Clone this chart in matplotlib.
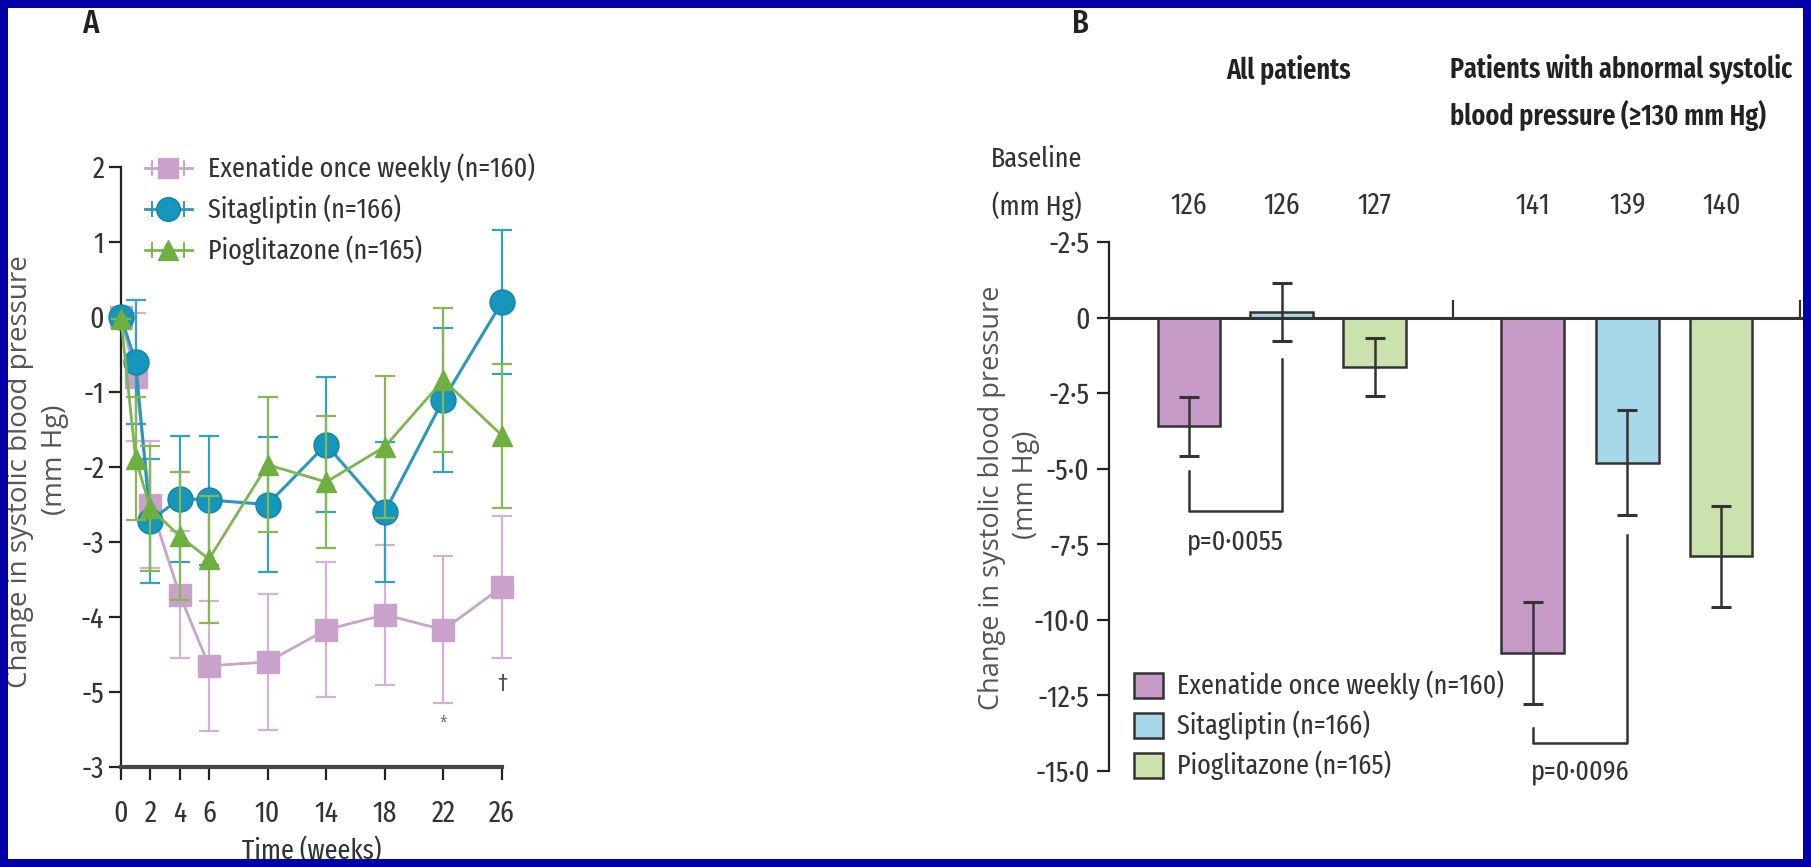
import matplotlib
matplotlib.use("Agg")
import matplotlib.pyplot as plt
from matplotlib import font_manager as fm
from matplotlib.lines import Line2D
from matplotlib.patches import Rectangle
import matplotlib.transforms as mtransforms

# ---------------- data ----------------
weeks = [0, 1, 2, 4, 6, 10, 14, 18, 22, 26]
week_ticks = [0, 2, 4, 6, 10, 14, 18, 22, 26]
left_yticks = [2, 1, 0, -1, -2, -3, -4, -5, -6]
left_ylabels = ["2", "1", "0", "-1", "-2", "-3", "-4", "-5", "-3"]

exenatide_mean = [0, -0.8, -2.5, -3.7, -4.65, -4.6, -4.17, -3.97, -4.17, -3.6]
exenatide_err = [0, 0.85, 0.85, 0.85, 0.87, 0.91, 0.9, 0.93, 0.98, 0.95]
sitagliptin_mean = [0, -0.6, -2.72, -2.42, -2.44, -2.5, -1.7, -2.6, -1.1, 0.2]
sitagliptin_err = [0, 0.83, 0.83, 0.84, 0.86, 0.9, 0.9, 0.93, 0.96, 0.96]
pioglitazone_mean = [-0.03, -1.89, -2.55, -2.92, -3.23, -1.97, -2.2, -1.73, -0.84, -1.58]
pioglitazone_err = [0, 0.82, 0.83, 0.85, 0.85, 0.9, 0.88, 0.95, 0.96, 0.96]

series_labels = ["Exenatide once weekly (n=160)", "Sitagliptin (n=166)", "Pioglitazone (n=165)"]

bar_all_mean = [-3.6, 0.2, -1.62]
bar_all_err = [0.98, 0.96, 0.96]
bar_abn_mean = [-11.1, -4.8, -7.9]
bar_abn_err = [1.7, 1.73, 1.67]
baseline_all = ["126", "126", "127"]
baseline_abn = ["141", "139", "140"]
right_yticks = [2.5, 0, -2.5, -5.0, -7.5, -10.0, -12.5, -15.0]
right_ylabels = ["-2\u00b75", "0", "-2\u00b75", "-5\u00b70", "-7\u00b75", "-10\u00b70", "-12\u00b75", "-15\u00b70"]
p_all = "p=0\u00b70055"
p_abn = "p=0\u00b70096"

# ---------------- fonts ----------------
names = {f.name for f in fm.fontManager.ttflist}
prefs = [("Fira Sans Extra Condensed", 20.5), ("Fira Sans Condensed", 18.7), ("PT Sans Narrow", 20),
         ("Asap Condensed", 18.5), ("Encode Sans Condensed", 17.5), ("Archivo Narrow", 18.5),
         ("Liberation Sans Narrow", 19), ("Roboto", 17)]
COND, FS = "DejaVu Sans", 15
for n, s in prefs:
    if n in names:
        COND, FS = n, s
        break
REG = "Open Sans" if "Open Sans" in names else "DejaVu Sans"
REG_FS = 19.5 if REG == "Open Sans" else 18

W, H = 1811, 867
fig = plt.figure(figsize=(W / 100, H / 100), dpi=100)
fig.patch.set_facecolor("white")

def fx(px):
    return px / W

def fy(py):
    return 1 - py / H

TXT = "#333333"

# colours
ex_c, ex_line = "#C9A2CC", "#C8A4CB"
si_c, si_line = "#1496BD", "#2A97BD"
pi_c, pi_line = "#6DB03F", "#7DB54F"

# ---------------- panel A ----------------
axA = fig.add_axes([fx(121), fy(767), fx(502) - fx(121), fy(167) - fy(767)])
axA.set_xlim(0, 26)
axA.set_ylim(-6, 2)

eA = axA.errorbar(weeks, exenatide_mean, yerr=exenatide_err, color=ex_line, ecolor="#D4B0D6",
                  elinewidth=1.6, capsize=7, capthick=1.6, lw=2, marker="s", ms=16,
                  mfc=ex_c, mec=ex_c, zorder=3, clip_on=False)
sA = axA.errorbar(weeks, sitagliptin_mean, yerr=sitagliptin_err, color=si_line, ecolor="#2FA3C6",
                  elinewidth=1.6, capsize=7, capthick=1.6, lw=2.2, marker="o", ms=18,
                  mfc=si_c, mec="#1583A8", zorder=4, clip_on=False)
pA = axA.errorbar(weeks, pioglitazone_mean, yerr=pioglitazone_err, color=pi_line, ecolor="#86B84E",
                  elinewidth=1.6, capsize=7, capthick=1.6, lw=2, marker="^", ms=14,
                  mfc=pi_c, mec=pi_c, zorder=5, clip_on=False)
for cont in (eA, sA, pA):
    for art in cont.lines[1]:
        art.set_clip_on(False)
    for art in cont.lines[2]:
        art.set_clip_on(False)

axA.text(22, -5.42, "*", ha="center", va="center", fontsize=14, color="#777777", family=COND)
axA.text(26, -4.9, "\u2020", ha="center", va="center", fontsize=17, color="#555555", family=COND)

for s in ("top", "right"):
    axA.spines[s].set_visible(False)
axA.spines["left"].set_linewidth(1.6)
axA.spines["left"].set_color("#222222")
axA.spines["bottom"].set_linewidth(3)
axA.spines["bottom"].set_color("#444444")
axA.set_xticks(week_ticks)
axA.set_xticklabels([str(w) for w in week_ticks], fontsize=FS + 1, color=TXT, family=COND)
axA.set_yticks(left_yticks)
axA.set_yticklabels(left_ylabels, fontsize=FS + 1, color=TXT, family=COND)
axA.tick_params(axis="both", length=9, width=1.6, color="#222222", pad=3)
axA.tick_params(axis="x", pad=14)

# legend A (drawn in figure pixels)
legA_rows = [168, 209, 250]
legA_style = [
    dict(color=ex_line, marker="s", ms=15, mfc=ex_c, mec=ex_c),
    dict(color=si_line, marker="o", ms=17, mfc=si_c, mec="#1583A8"),
    dict(color=pi_line, marker="^", ms=14, mfc=pi_c, mec=pi_c),
]
for ry, lab, st in zip(legA_rows, series_labels, legA_style):
    fig.add_artist(Line2D([fx(145), fx(192)], [fy(ry), fy(ry)], transform=fig.transFigure,
                          color=st["color"], lw=2))
    for cx in (152, 184):
        fig.add_artist(Line2D([fx(cx), fx(cx)], [fy(ry - 7), fy(ry + 7)], transform=fig.transFigure,
                              color=st["color"], lw=1.4))
    fig.add_artist(Line2D([fx(168)], [fy(ry)], transform=fig.transFigure, ls="none",
                          marker=st["marker"], ms=st["ms"], mfc=st["mfc"], mec=st["mec"]))
    fig.text(fx(208), fy(ry), lab, ha="left", va="center", fontsize=FS, color=TXT, family=COND)

fig.text(fx(312), fy(851), "Time (weeks)", ha="center", va="center", fontsize=FS, color=TXT,
         family=COND)
fig.text(fx(20), fy(472), "Change in systolic blood pressure", rotation=90, ha="center", va="center",
         fontsize=REG_FS + 0.5, color="#555555", family=REG)
fig.text(fx(55), fy(460), "(mm Hg)", rotation=90, ha="center", va="center",
         fontsize=REG_FS + 0.5, color="#555555", family=REG)
fig.text(fx(90), fy(24), "A", ha="center", va="center", fontsize=24, color="#222222", family=COND,
         weight="medium")

# ---------------- panel B ----------------
axB = fig.add_axes([fx(1109), fy(771), fx(1804) - fx(1109), fy(242) - fy(771)])
axB.set_xlim(-0.857, 6.62)
axB.set_ylim(-15, 2.5)

pos_all = [0, 1, 2]
pos_abn = [3.7, 4.72, 5.73]
bar_cols = ["#C69BC8", "#A6D8EA", "#CCE2AE"]
bw = 0.67
for i in range(3):
    axB.bar(pos_all[i], bar_all_mean[i], width=bw, color=bar_cols[i], edgecolor="#333333",
            linewidth=1.8, zorder=2)
    axB.bar(pos_abn[i], bar_abn_mean[i], width=bw, color=bar_cols[i], edgecolor="#333333",
            linewidth=1.8, zorder=2)
axB.errorbar(pos_all, bar_all_mean, yerr=bar_all_err, fmt="none", ecolor="#333333", elinewidth=1.8,
             capsize=7.5, capthick=2.2, zorder=4)
axB.errorbar(pos_abn, bar_abn_mean, yerr=bar_abn_err, fmt="none", ecolor="#333333", elinewidth=1.8,
             capsize=7.5, capthick=2.2, zorder=4)

axB.axhline(0, color="#333333", lw=2.2, zorder=3, clip_on=False)
for xs in (2.84, 6.58):
    axB.plot([xs, xs], [0, 0.55], color="#333333", lw=1.6, clip_on=False, zorder=3)

# brackets
axB.plot([pos_all[0], pos_all[0], pos_all[1], pos_all[1]], [-5.08, -6.39, -6.39, -1.36],
         color="#333333", lw=1.8, zorder=3)
axB.text((pos_all[0] + pos_all[1]) / 2, -7.4, p_all, ha="center", va="center", fontsize=FS,
         color=TXT, family=COND)
axB.plot([pos_abn[0], pos_abn[0], pos_abn[1], pos_abn[1]], [-13.58, -14.08, -14.08, -7.19],
         color="#333333", lw=1.8, zorder=3)
axB.text((pos_abn[0] + pos_abn[1]) / 2, -15.02, p_abn, ha="center", va="center", fontsize=FS,
         color=TXT, family=COND, clip_on=False)

for s in ("top", "right", "bottom"):
    axB.spines[s].set_visible(False)
axB.spines["left"].set_linewidth(1.6)
axB.spines["left"].set_color("#222222")
axB.set_xticks([])
axB.set_yticks(right_yticks)
axB.set_yticklabels(right_ylabels, fontsize=FS + 1, color=TXT, family=COND)
axB.tick_params(axis="y", length=9, width=1.6, color="#222222", pad=5)

# legend B (drawn in figure pixels)
legB_rows = [685, 725, 765]
for ry, lab, c in zip(legB_rows, series_labels, bar_cols):
    fig.add_artist(Rectangle((fx(1134), fy(ry + 12.5)), 29 / W, 25 / H, transform=fig.transFigure,
                             facecolor=c, edgecolor="#333333", linewidth=1.8))
    fig.text(fx(1177), fy(ry), lab, ha="left", va="center", fontsize=FS, color=TXT, family=COND)

# baseline numbers
trB = mtransforms.blended_transform_factory(axB.transData, fig.transFigure)
for i in range(3):
    axB.text(pos_all[i], fy(206), baseline_all[i], transform=trB, ha="center", va="center",
             fontsize=FS + 1, color=TXT, family=COND)
    axB.text(pos_abn[i], fy(206), baseline_abn[i], transform=trB, ha="center", va="center",
             fontsize=FS + 1, color=TXT, family=COND)
fig.text(fx(1082), fy(159), "Baseline", ha="right", va="center", fontsize=FS, color=TXT, family=COND)
fig.text(fx(1082), fy(206), "(mm Hg)", ha="right", va="center", fontsize=FS, color=TXT, family=COND)

fig.text(fx(1288), fy(69), "All patients", ha="center", va="center", fontsize=FS, color="#222222",
         weight="semibold", family=COND)
fig.text(fx(1450), fy(69), "Patients with abnormal systolic", ha="left", va="center", fontsize=FS,
         color="#222222", weight="semibold", family=COND)
fig.text(fx(1450), fy(115), "blood pressure (\u2265130 mm Hg)", ha="left", va="center", fontsize=FS,
         color="#222222", weight="semibold", family=COND)

fig.text(fx(992), fy(498), "Change in systolic blood pressure", rotation=90, ha="center", va="center",
         fontsize=REG_FS, color="#555555", family=REG)
fig.text(fx(1026), fy(485), "(mm Hg)", rotation=90, ha="center", va="center",
         fontsize=REG_FS, color="#555555", family=REG)
fig.text(fx(1080), fy(24), "B", ha="center", va="center", fontsize=24, color="#222222", family=COND,
         weight="medium")

# ---------------- blue frame ----------------
bc = "#0000A6"
for (x0, y0, w, h) in [(0, 0, W, 8), (0, H - 8, W, 8), (0, 0, 8, H), (W - 8, 0, 8, H)]:
    fig.patches.append(Rectangle((fx(x0), fy(y0 + h)), w / W, h / H, transform=fig.transFigure,
                                 facecolor=bc, edgecolor="none", zorder=100))

fig.savefig("out.png", dpi=100, facecolor="white")
